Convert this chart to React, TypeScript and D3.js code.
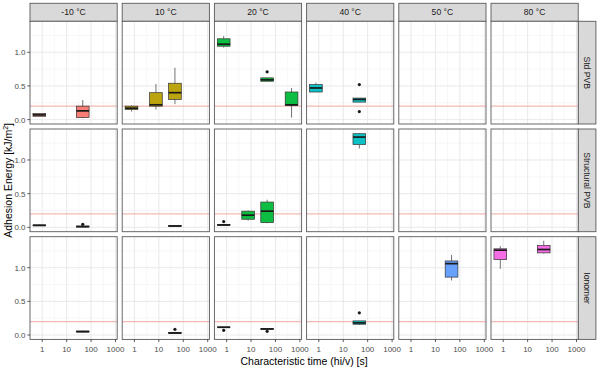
import * as d3 from 'd3';

const TEMPS = ['-10 °C', '10 °C', '20 °C', '40 °C', '50 °C', '80 °C'];
const TEMP_COLORS = ['#F8766D', '#B79F00', '#00BA38', '#00BFC4', '#619CFF', '#F564E3'];
const MATERIALS = ['Std PVB', 'Structural PVB', 'Ionomer'];
const X_TICKS = [1, 10, 100, 1000];
const Y_TICKS = [0, 0.5, 1.0];
const Y_MINOR = [0.25, 0.75, 1.25];
const X_MINOR = [10 ** 0.5, 10 ** 1.5, 10 ** 2.5];
const THRESHOLD = 0.2;

interface Box {
  temp: string;
  t: number;
  lo: number;
  q1: number;
  med: number;
  q3: number;
  hi: number;
  out?: number[];
}

// each box: characteristic time, whiskers, quartiles, median, outliers
const STD_PVB: Box[] = [
  { temp: '-10 °C', t: 0.76, lo: 0.045, q1: 0.05, med: 0.07, q3: 0.09, hi: 0.095 },
  { temp: '-10 °C', t: 45.6, lo: 0.02, q1: 0.03, med: 0.13, q3: 0.2, hi: 0.29 },
  { temp: '10 °C', t: 0.76, lo: 0.12, q1: 0.15, med: 0.17, q3: 0.2, hi: 0.21 },
  { temp: '10 °C', t: 7.6, lo: 0.15, q1: 0.2, med: 0.22, q3: 0.4, hi: 0.53 },
  { temp: '10 °C', t: 45.6, lo: 0.23, q1: 0.3, med: 0.4, q3: 0.54, hi: 0.77 },
  { temp: '20 °C', t: 0.76, lo: 1.07, q1: 1.09, med: 1.12, q3: 1.2, hi: 1.24 },
  { temp: '20 °C', t: 45.6, lo: 0.57, q1: 0.57, med: 0.59, q3: 0.62, hi: 0.62, out: [0.71] },
  { temp: '20 °C', t: 456, lo: 0.03, q1: 0.21, med: 0.22, q3: 0.41, hi: 0.47 },
  { temp: '40 °C', t: 0.76, lo: 0.41, q1: 0.41, med: 0.47, q3: 0.52, hi: 0.55 },
  { temp: '40 °C', t: 45.6, lo: 0.26, q1: 0.26, med: 0.3, q3: 0.32, hi: 0.32, out: [0.52, 0.12] },
];

const STRUCTURAL_PVB: Box[] = [
  { temp: '-10 °C', t: 0.76, lo: 0.02, q1: 0.022, med: 0.03, q3: 0.035, hi: 0.04 },
  { temp: '-10 °C', t: 45.6, lo: 0.0, q1: 0.005, med: 0.01, q3: 0.02, hi: 0.03, out: [0.045] },
  { temp: '10 °C', t: 45.6, lo: 0.01, q1: 0.013, med: 0.02, q3: 0.025, hi: 0.03 },
  { temp: '20 °C', t: 0.76, lo: 0.025, q1: 0.03, med: 0.035, q3: 0.04, hi: 0.045, out: [0.085] },
  { temp: '20 °C', t: 7.6, lo: 0.1, q1: 0.12, med: 0.18, q3: 0.24, hi: 0.25 },
  { temp: '20 °C', t: 45.6, lo: 0.06, q1: 0.07, med: 0.24, q3: 0.375, hi: 0.41 },
  { temp: '40 °C', t: 45.6, lo: 1.17, q1: 1.23, med: 1.34, q3: 1.39, hi: 1.4 },
];

const IONOMER: Box[] = [
  { temp: '-10 °C', t: 45.6, lo: 0.04, q1: 0.045, med: 0.05, q3: 0.06, hi: 0.065 },
  { temp: '10 °C', t: 45.6, lo: 0.02, q1: 0.025, med: 0.03, q3: 0.04, hi: 0.045, out: [0.085] },
  { temp: '20 °C', t: 0.76, lo: 0.1, q1: 0.11, med: 0.115, q3: 0.12, hi: 0.12, out: [0.07] },
  { temp: '20 °C', t: 45.6, lo: 0.08, q1: 0.085, med: 0.09, q3: 0.095, hi: 0.1, out: [0.055] },
  { temp: '40 °C', t: 45.6, lo: 0.15, q1: 0.16, med: 0.18, q3: 0.21, hi: 0.21, out: [0.33] },
  { temp: '50 °C', t: 45.6, lo: 0.81, q1: 0.86, med: 1.06, q3: 1.1, hi: 1.19 },
  { temp: '80 °C', t: 0.76, lo: 0.985, q1: 1.12, med: 1.26, q3: 1.28, hi: 1.32 },
  { temp: '80 °C', t: 45.6, lo: 1.21, q1: 1.22, med: 1.27, q3: 1.33, hi: 1.4 },
];

const DATA_BY_MATERIAL = [STD_PVB, STRUCTURAL_PVB, IONOMER];

const W = 600;
const H = 371;
const LEFT = 30;
const TOP = 21.3;
const PW = 87.2;
const PH = 102.7;
const GAP = 5;
const STRIP_H = 18;
const STRIP_W = 17.7;
const BORDER = '#595959';
const FONT = "'Liberation Sans', Arial, sans-serif";

export default function App() {
  const x = d3.scaleLog().domain([10 ** -0.5, 10 ** 3.07]).range([0, PW]);
  const y = d3.scaleLinear().domain([-0.065, 1.46]).range([PH, 0]);
  const halfW = 0.26; // box half-width in decades
  const bx = (t: number, d: number) => x(10 ** (Math.log10(t) + d));

  const colX = (c: number) => LEFT + c * (PW + GAP);
  const rowY = (r: number) => TOP + r * (PH + GAP);
  const rightEdge = colX(5) + PW;
  const bottomEdge = rowY(2) + PH;

  return (
    <svg width={W} height={H} style={{ position: 'absolute', left: 0, top: 0, background: '#fff' }} fontFamily={FONT}>
      <rect width={W} height={H} fill="#fff" />

      {/* top strips */}
      {TEMPS.map((tp, c) => (
        <g key={tp} transform={`translate(${colX(c)},${TOP - STRIP_H})`}>
          <rect width={PW} height={STRIP_H} fill="#D9D9D9" stroke={BORDER} strokeWidth={0.9} />
          <text x={PW / 2} y={STRIP_H / 2 + 3} textAnchor="middle" fontSize={8.6} fill="#1A1A1A">{tp}</text>
        </g>
      ))}

      {/* right strips */}
      {MATERIALS.map((m, r) => (
        <g key={m} transform={`translate(${rightEdge},${rowY(r)})`}>
          <rect width={STRIP_W} height={PH} fill="#D9D9D9" stroke={BORDER} strokeWidth={0.9} />
          <text transform={`translate(${STRIP_W / 2 - 3},${PH / 2}) rotate(90)`} textAnchor="middle" fontSize={8.6} fill="#1A1A1A">{m}</text>
        </g>
      ))}

      {MATERIALS.map((m, r) => TEMPS.map((tp, c) => {
        const boxes = DATA_BY_MATERIAL[r].filter((b) => b.temp === tp);
        const color = TEMP_COLORS[c];
        return (
          <g key={`${m}-${tp}`} transform={`translate(${colX(c)},${rowY(r)})`}>
            <rect width={PW} height={PH} fill="#fff" />
            {Y_MINOR.map((v) => <line key={`ym${v}`} x1={0} x2={PW} y1={y(v)} y2={y(v)} stroke="#F2F2F2" strokeWidth={0.6} />)}
            {X_MINOR.map((v) => <line key={`xm${v}`} y1={0} y2={PH} x1={x(v)} x2={x(v)} stroke="#F2F2F2" strokeWidth={0.6} />)}
            {Y_TICKS.map((v) => <line key={`y${v}`} x1={0} x2={PW} y1={y(v)} y2={y(v)} stroke="#E6E6E6" strokeWidth={0.9} />)}
            {X_TICKS.map((v) => <line key={`x${v}`} y1={0} y2={PH} x1={x(v)} x2={x(v)} stroke="#E6E6E6" strokeWidth={0.9} />)}
            <line x1={0} x2={PW} y1={y(THRESHOLD)} y2={y(THRESHOLD)} stroke="#F2B9B5" strokeWidth={1.2} />
            {boxes.map((b, i) => {
              const x0 = bx(b.t, -halfW);
              const x1 = bx(b.t, halfW);
              const xc = x(b.t);
              return (
                <g key={i}>
                  <line x1={xc} x2={xc} y1={y(b.hi)} y2={y(b.q3)} stroke="#333" strokeWidth={0.7} />
                  <line x1={xc} x2={xc} y1={y(b.q1)} y2={y(b.lo)} stroke="#333" strokeWidth={0.7} />
                  <rect x={x0} width={x1 - x0} y={y(b.q3)} height={Math.max(0.5, y(b.q1) - y(b.q3))}
                    fill={color} fillOpacity={0.95} stroke="#333" strokeWidth={0.7} />
                  <line x1={x0} x2={x1} y1={y(b.med)} y2={y(b.med)} stroke="#1A1A1A" strokeWidth={1.7} />
                  {(b.out || []).map((o, k) => <circle key={k} cx={xc} cy={y(o)} r={1.6} fill="#1A1A1A" />)}
                </g>
              );
            })}
            <rect width={PW} height={PH} fill="none" stroke={BORDER} strokeWidth={0.9} />
          </g>
        );
      }))}

      {/* y axis ticks and labels */}
      {MATERIALS.map((m, r) => (
        <g key={`ya-${m}`} transform={`translate(${LEFT},${rowY(r)})`}>
          {Y_TICKS.map((v) => (
            <g key={v}>
              <line x1={-2.7} x2={0} y1={y(v)} y2={y(v)} stroke="#333" strokeWidth={0.8} />
              <text x={-4.5} y={y(v) + 2.9} textAnchor="end" fontSize={8} fill="#4D4D4D">{v.toFixed(1)}</text>
            </g>
          ))}
        </g>
      ))}

      {/* x axis ticks and labels */}
      {TEMPS.map((tp, c) => (
        <g key={`xa-${tp}`} transform={`translate(${colX(c)},${bottomEdge})`}>
          {X_TICKS.map((v) => (
            <g key={v}>
              <line x1={x(v)} x2={x(v)} y1={0} y2={2.7} stroke="#333" strokeWidth={0.8} />
              <text x={x(v)} y={12.6} textAnchor="middle" fontSize={8} fill="#4D4D4D">{d3.format('d')(v)}</text>
            </g>
          ))}
        </g>
      ))}

      <text x={(LEFT + rightEdge) / 2} y={365} textAnchor="middle" fontSize={10.5} fill="#000">Characteristic time (hi/v) [s]</text>
      <text transform={`translate(11.5,${(TOP + bottomEdge) / 2}) rotate(-90)`} textAnchor="middle" fontSize={10.5} fill="#000">
        Adhesion Energy [kJ/m<tspan dy={-3.5} fontSize={7}>2</tspan><tspan dy={3.5}>]</tspan>
      </text>
    </svg>
  );
}
